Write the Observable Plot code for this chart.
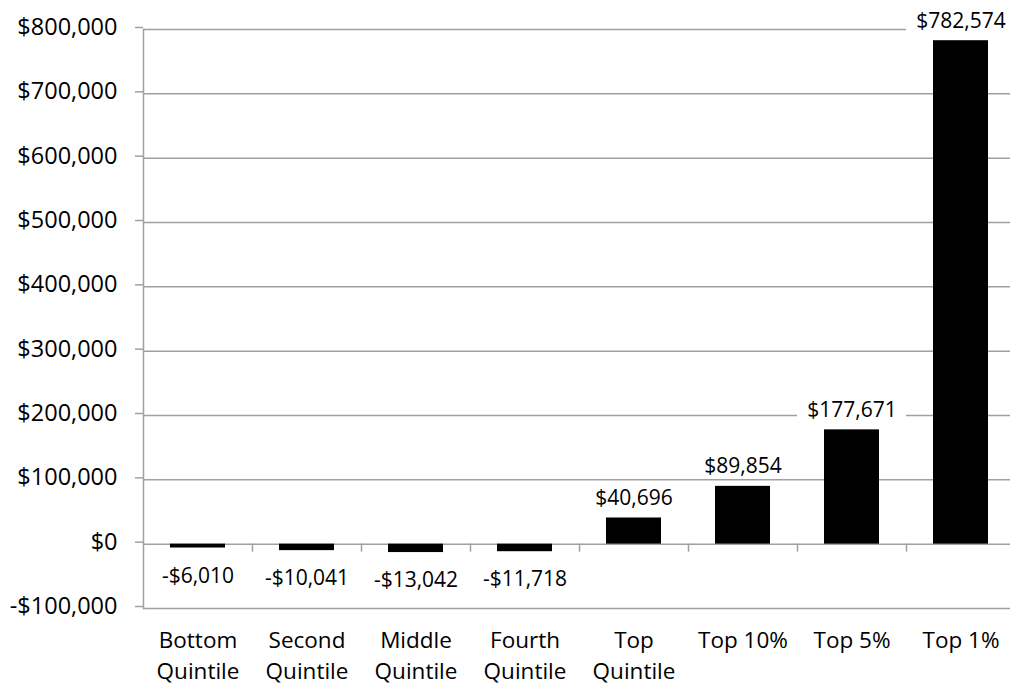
<!DOCTYPE html>
<html><head><meta charset="utf-8">
<script src="https://cdn.jsdelivr.net/npm/d3@7"></script>
<script src="https://cdn.jsdelivr.net/npm/@observablehq/plot@0.6"></script>
<style>body{margin:0;background:#fff} svg{display:block}</style>
</head><body><div id="chart"></div>
<script>
const categories = ["Bottom\nQuintile","Second\nQuintile","Middle\nQuintile","Fourth\nQuintile","Top\nQuintile","Top 10%","Top 5%","Top 1%"];
const values = [-6010,-10041,-13042,-11718,40696,89854,177671,782574];
const yTicks = [-100000,0,100000,200000,300000,400000,500000,600000,700000,800000];

const data = categories.map((c,i)=>({category:c, value:values[i]}));
const money = v => (v<0?"-$":"$") + d3.format(",")(Math.abs(v));
const grid = "#a0a0a0";
const pos = data.filter(d=>d.value>0);
const neg = data.filter(d=>d.value<0);

const chart = Plot.plot({
  width:1010, height:687, marginLeft:143, marginRight:0, marginTop:29, marginBottom:79,
  style:{fontFamily:"'Open Sans', sans-serif", background:"#fff", color:"#000"},
  x:{type:"band", domain:categories, range:[143,1015], paddingInner:0.5, paddingOuter:0.25},
  y:{domain:[-100000,800000]},
  marks:[
    Plot.ruleY(yTicks,{stroke:grid, strokeWidth:1.5}),
    Plot.ruleX(categories.slice(0,-1), {x:d=>d, y1:0, y2:0, dx:54.5, insetBottom:-8, stroke:grid, strokeWidth:1.5}),
    Plot.barY(data, {x:"category", y:"value", fill:"black"}),
    Plot.barY(pos, {x:"category", y1:"value", y2:"value", fill:"white", insetTop:-32, insetBottom:8, insetLeft:-27, insetRight:-27}),
    Plot.text(pos, {x:"category", y:"value", text:d=>money(d.value), lineAnchor:"bottom", dy:-13, fontSize:21, fill:"#000"}),
    Plot.text(neg, {x:"category", y:"value", text:d=>money(d.value), lineAnchor:"middle", dy:28, fontSize:21, fill:"#000"}),
    Plot.frame({anchor:"left", stroke:grid, strokeWidth:1.5}),
    Plot.axisY({ticks:yTicks, tickFormat:money, tickSize:8, tickPadding:18, dy:-2, fontSize:23.5, stroke:grid, strokeWidth:1.5, fill:"#000", label:null}),
    Plot.axisX({tickSize:0, tickPadding:17, fontSize:22.5, lineHeight:1.4, fill:"#000", label:null})
  ]
});
document.getElementById("chart").append(chart);
</script></body></html>
